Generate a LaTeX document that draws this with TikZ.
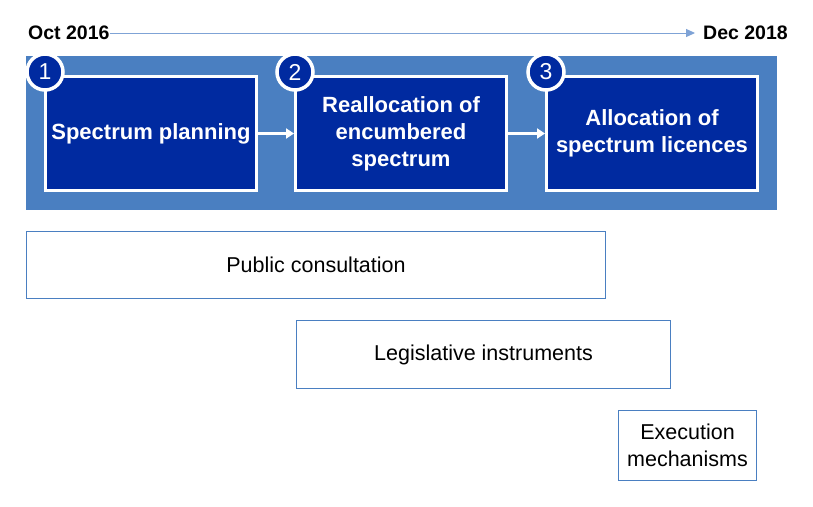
\documentclass[tikz,border=0pt]{standalone}
\usepackage{fontspec}
\setmainfont{Liberation Sans}
\usetikzlibrary{arrows.meta}
\definecolor{band}{HTML}{4A7FC1}
\definecolor{dark}{HTML}{002AA0}
\definecolor{tl}{HTML}{7FA3D6}
\begin{document}
\begin{tikzpicture}[x=1pt,y=-1pt,
 stepbox/.style={draw=white,line width=3pt,fill=dark,text=white,font=\bfseries\fontsize{22}{27}\selectfont,align=center,minimum width=211pt,minimum height=114pt,anchor=north west,inner sep=0},
 num/.style={circle,draw=white,line width=3.5pt,fill=dark,text=white,minimum size=36pt,inner sep=0,font=\fontsize{23}{25}\selectfont},
 lab/.style={font=\bfseries\fontsize{19.5}{22}\selectfont,inner sep=0},
 plain/.style={draw=band,line width=1pt,fill=white,align=center,font=\fontsize{21.5}{27}\selectfont,anchor=north west,inner sep=0},
 link/.style={white,line width=2.5pt,-{Triangle[length=8pt,width=10pt]}}]
\useasboundingbox (0,0) rectangle (813,506);
\fill[band] (26,56) rectangle (777,210);
\node[lab,anchor=west] (oct) at (28,33) {Oct 2016};
\node[lab,anchor=east] (dec) at (788,33) {Dec 2018};
\draw[tl,line width=1pt,-{Triangle[length=9pt,width=8pt]},color=tl] (oct.east) -- ([xshift=-8pt]dec.west);
\node[stepbox] (s1) at (44,75) {Spectrum planning};
\node[stepbox] (s2) at (294,75) {Reallocation of\\encumbered\\spectrum};
\node[stepbox] (s3) at (545,75) {Allocation of\\spectrum licences};
\node[num] (n1) at ([xshift=1pt,yshift=3pt]s1.north west) {1};
\node[num] (n2) at ([xshift=1pt,yshift=3pt]s2.north west) {2};
\node[num] (n3) at ([xshift=1pt,yshift=3pt]s3.north west) {3};
\draw[link] (s1.east) -- (s2.west);
\draw[link] (s2.east) -- (s3.west);
\node[plain,minimum width=579pt,minimum height=67pt] (p) at (26,231) {Public consultation};
\node[plain,minimum width=374pt,minimum height=68pt] (l) at (296,320) {Legislative instruments};
\node[plain,minimum width=138pt,minimum height=70pt] (e) at (618,410) {Execution\\mechanisms};
\end{tikzpicture}
\end{document}
